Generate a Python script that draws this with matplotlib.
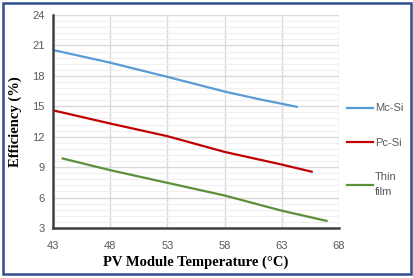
import matplotlib.pyplot as plt
from matplotlib.patches import Rectangle
from matplotlib.ticker import MultipleLocator

# values
mc_temp = [43, 48, 53, 58, 61, 64.3]
mc_eff = [20.55, 19.3, 17.9, 16.45, 15.7, 14.95]

pc_temp = [43, 48, 53, 58, 63, 65.6]
pc_eff = [14.6, 13.3, 12.05, 10.5, 9.25, 8.55]

thin_temp = [43.85, 48, 53, 58, 63, 66.9]
thin_eff = [9.85, 8.7, 7.45, 6.2, 4.7, 3.7]

x_ticks = [43, 48, 53, 58, 63, 68]
y_ticks = [3, 6, 9, 12, 15, 18, 21, 24]

serif = ['Liberation Serif', 'DejaVu Serif']
sans = ['Liberation Sans', 'DejaVu Sans']
tick_col = '#595959'

fig = plt.figure(figsize=(4.14, 2.78), dpi=100)
ax = fig.add_axes([0.128, 0.180, 0.691, 0.766])

ax.plot(mc_temp, mc_eff, color='#5B9BD5', lw=1.6, label='Mc-Si')
ax.plot(pc_temp, pc_eff, color='#C00000', lw=1.6, label='Pc-Si')
ax.plot(thin_temp, thin_eff, color='#5B8F3A', lw=1.6, label='Thin\nfilm')

ax.set_xlim(43, 68)
ax.set_ylim(3, 24)
ax.set_xticks(x_ticks)
ax.set_yticks(y_ticks)
ax.yaxis.set_minor_locator(MultipleLocator(0.6))
ax.grid(True, which='major', color='#d9d9d9', lw=1.0)
ax.grid(True, which='minor', axis='y', color='#efefef', lw=0.8)
ax.set_axisbelow(True)

for s in ['top', 'right']:
    ax.spines[s].set_visible(False)
for s in ['left', 'bottom']:
    ax.spines[s].set_color('#404040')
    ax.spines[s].set_linewidth(1.8)
ax.tick_params(which='both', length=0)
ax.tick_params(axis='both', labelsize=8, labelcolor=tick_col)
ax.tick_params(axis='x', pad=9.5)
ax.tick_params(axis='y', pad=6)
for lab in ax.get_xticklabels() + ax.get_yticklabels():
    lab.set_family(sans)

ax.set_xlabel('PV Module Temperature (°C)', family=serif, fontsize=10.5,
              fontweight='bold', labelpad=3.5)
ax.set_ylabel('Efficiency (%)', family=serif, fontsize=10.5,
              fontweight='bold', labelpad=7)

leg = ax.legend(loc='upper left', bbox_to_anchor=(0.99, 0.637), frameon=False,
                prop={'family': sans, 'size': 8}, handlelength=2.3,
                handletextpad=0.2, labelspacing=2.2, borderaxespad=0.6)
for t in leg.get_texts():
    t.set_color(tick_col)
    t.set_linespacing(1.6)

fig.patches.append(Rectangle((0.008, 0.014), 0.984, 0.976, transform=fig.transFigure,
                             fill=False, edgecolor='#2F4F8F', lw=1.8))

fig.savefig('out.png', dpi=100)
